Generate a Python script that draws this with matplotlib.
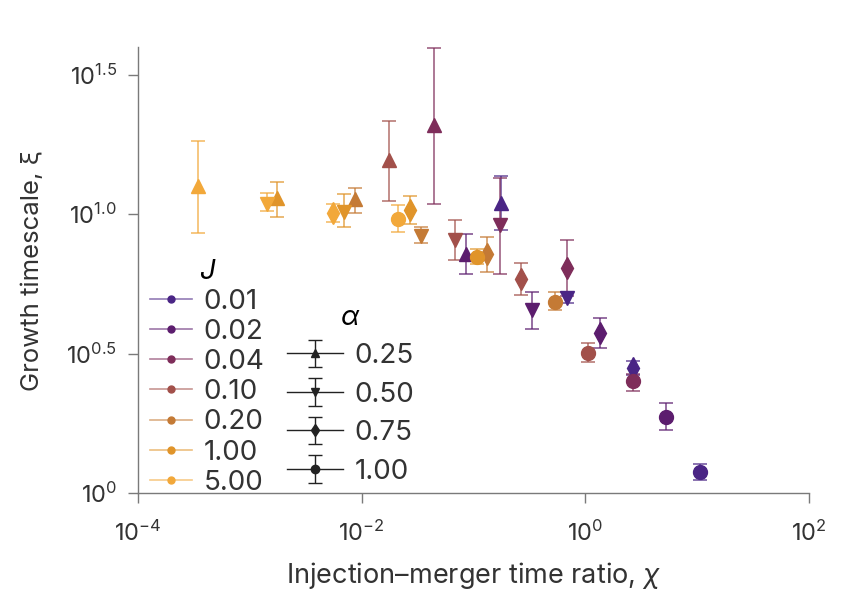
import numpy as np
import matplotlib
matplotlib.use('Agg')
import matplotlib.pyplot as plt
from matplotlib.lines import Line2D
from matplotlib.colors import to_rgba

plt.rcParams['font.family'] = ['Inter', 'DejaVu Sans']
plt.rcParams['mathtext.fontset'] = 'custom'
plt.rcParams['mathtext.rm'] = 'Inter'
plt.rcParams['mathtext.it'] = 'Inter:italic'
plt.rcParams['mathtext.default'] = 'regular'

# J values and their colours
j_labels = ['0.01', '0.02', '0.04', '0.10', '0.20', '1.00', '5.00']
j_colors = ['#4a2585', '#5c1d6e', '#7e2d5a', '#a2504a', '#c47a35', '#e0942a', '#f2a83a']

# alpha values and markers
a_labels = ['0.25', '0.50', '0.75', '1.00']
a_markers = ['^', 'v', 'd', 'o']

# chi (x), xi (y) and error bar ends, ordered by J as in j_labels
chi_025 = [0.177, 0.0861, 0.0446, 0.0176, 0.00875, 0.00175, 0.000344]
xi_025 = [11.0, 7.22, 20.9, 15.67, 11.36, 11.46, 12.65]
lo_025 = [8.80, 6.12, 10.9, 11.17, 10.12, 9.80, 8.59]
hi_025 = [13.73, 8.52, 39.4, 21.6, 12.44, 13.07, 18.3]

chi_050 = [0.690, 0.336, 0.173, 0.0687, 0.0340, 0.00697, 0.00143]
xi_050 = [5.02, 4.52, 9.17, 8.11, 8.38, 10.2, 10.9]
lo_050 = [4.82, 3.89, 6.12, 6.87, 7.91, 9.02, 10.3]
hi_050 = [5.24, 5.28, 13.51, 9.55, 9.02, 11.84, 11.94]

chi_075 = [2.69, 1.36, 0.690, 0.267, 0.133, 0.0272, 0.00556]
xi_075 = [2.82, 3.74, 6.44, 5.88, 7.22, 10.38, 10.12]
lo_075 = [2.64, 3.30, 5.11, 5.15, 6.23, 9.25, 9.40]
hi_075 = [2.97, 4.23, 8.11, 6.70, 8.31, 11.65, 10.9]

chi_100 = [10.7, 5.31, 2.69, 1.06, 0.539, 0.108, 0.0212]
xi_100 = [1.19, 1.87, 2.52, 3.19, 4.86, 7.05, 9.64]
lo_100 = [1.11, 1.68, 2.32, 2.94, 4.52, 6.65, 8.65]
hi_100 = [1.27, 2.10, 2.67, 3.44, 5.24, 7.53, 10.8]

series = [
    (chi_025, xi_025, lo_025, hi_025),
    (chi_050, xi_050, lo_050, hi_050),
    (chi_075, xi_075, lo_075, hi_075),
    (chi_100, xi_100, lo_100, hi_100),
]

fig = plt.figure(figsize=(8.55, 5.9), dpi=100)
ax = fig.add_axes([0.1614, 0.1644, 0.7848, 0.7559])

for marker, (xs, ys, los, his) in zip(a_markers, series):
    for i in range(len(j_labels)):
        c = j_colors[i]
        yerr = [[ys[i] - los[i]], [his[i] - ys[i]]]
        ms = 11 if marker == 'd' else 10
        ax.errorbar([xs[i]], [ys[i]], yerr=yerr, fmt=marker, ms=ms,
                    mfc=c, mec=c, ecolor=to_rgba(c, 0.75), elinewidth=1.2,
                    capsize=5, capthick=1.2, zorder=3)

ax.set_xscale('log')
ax.set_yscale('log')
ax.set_xlim(1e-4, 1e2)
ax.set_ylim(1, 10 ** 1.6)

ax.set_xticks([1e-4, 1e-2, 1, 1e2])
ax.set_xticklabels(['$10^{-4}$', '$10^{-2}$', '$10^{0}$', '$10^{2}$'])
ax.set_yticks([1, 10 ** 0.5, 10, 10 ** 1.5])
ax.set_yticklabels(['$10^{0}$', '$10^{0.5}$', '$10^{1.0}$', '$10^{1.5}$'])
ax.minorticks_off()

gray = '#7a7a7a'
for s in ['top', 'right']:
    ax.spines[s].set_visible(False)
for s in ['left', 'bottom']:
    ax.spines[s].set_color(gray)
    ax.spines[s].set_linewidth(1.0)
ax.tick_params(direction='out', length=7, width=1.0, color=gray,
               labelcolor='#333333', labelsize=17, pad=8)
ax.tick_params(axis='x', pad=13)

ax.set_xlabel('Injection–merger time ratio, $\\mathit{\\chi}$', fontsize=19.5,
              color='#333333', labelpad=10)
ax.set_ylabel('Growth timescale, ξ', fontsize=18.5, color='#333333', labelpad=16)

# legend for J (colour)
j_handles = [Line2D([0], [0], color=to_rgba(c, 0.6), lw=1.2, marker='o', ms=5,
                    mfc=c, mec=c) for c in j_colors]
leg1 = ax.legend(j_handles, j_labels, title='$\\mathit{J}$', loc='lower left',
                 bbox_to_anchor=(0.018, -0.006), frameon=False, fontsize=20,
                 title_fontsize=20, labelspacing=0.15, handlelength=1.5,
                 handletextpad=0.43, borderpad=0, borderaxespad=0,
                 labelcolor='#333333')
ax.add_artist(leg1)

# legend for alpha (marker)
a_handles = []
for m in a_markers:
    h = ax.errorbar([np.nan], [np.nan], yerr=[[1], [1]], fmt='-' + m,
                    color='#222222', ms=6, lw=1.0, elinewidth=1.0,
                    capsize=5, capthick=1.0)
    a_handles.append(h)
leg2 = ax.legend(a_handles, a_labels, title='$\\mathit{α}$', loc='lower left',
                 bbox_to_anchor=(0.222, 0.0186), frameon=False, fontsize=20,
                 title_fontsize=20, labelspacing=0.45, handlelength=2.0,
                 handletextpad=0.43, borderpad=0, borderaxespad=0,
                 labelcolor='#333333')

fig.savefig('out.png', dpi=100)
